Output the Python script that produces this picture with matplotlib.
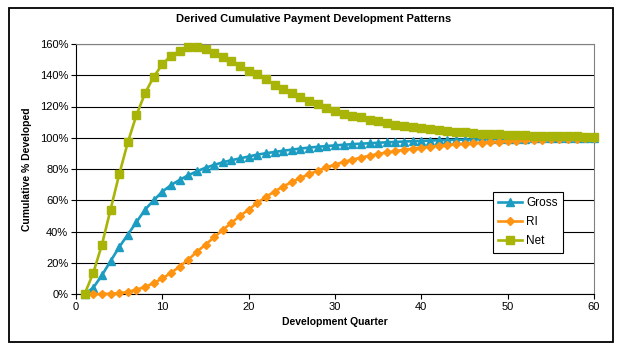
import matplotlib
matplotlib.use("Agg")
import matplotlib.pyplot as plt
from matplotlib.patches import Rectangle
from matplotlib.ticker import FuncFormatter


QUARTERS = list(range(1, 61))

GROSS = [
    0, 4, 12, 21, 30, 38, 46, 54, 60, 65.5,
    69.7, 73, 76, 78.5, 80.8, 82.6, 84.3, 85.6, 86.8, 88,
    89.2, 90.1, 90.9, 91.7, 92.4, 93.1, 93.7, 94.2, 94.7, 95.1,
    95.5, 95.9, 96.2, 96.5, 96.8, 97.1, 97.3, 97.6, 97.8, 98.0,
    98.2, 98.4, 98.5, 98.7, 98.8, 98.9, 99.0, 99.1, 99.2, 99.3,
    99.4, 99.5, 99.6, 99.6, 99.7, 99.8, 99.8, 99.9, 99.9, 100,
]

RI = [
    0, 0, 0, 0.2, 0.5, 1.3, 2.8, 4.5, 7, 10,
    13.5, 17.5, 22, 27, 31.6, 36.3, 41, 45.5, 50, 54,
    58.3, 62.2, 65.6, 68.8, 71.7, 74.3, 76.7, 78.9, 81, 82.8,
    84.5, 86, 87.3, 88.5, 89.6, 90.6, 91.5, 92.3, 93, 93.7,
    94.3, 94.8, 95.3, 95.8, 96.2, 96.6, 96.9, 97.2, 97.5, 97.8,
    98.0, 98.3, 98.5, 98.7, 98.9, 99.1, 99.3, 99.5, 99.7, 100,
]

NET = [
    0, 13.5, 31.5, 54, 76.5, 97, 114.5, 128.5, 139, 147,
    152.5, 155.5, 158, 158, 156.5, 154.5, 152, 149, 146, 143,
    140.5, 137.5, 134, 131, 128.5, 126, 123.5, 121.5, 119, 117,
    115.5, 114, 113, 111.5, 110.5, 109.3, 108.4, 107.6, 107, 106.2,
    105.4, 104.8, 104.3, 104, 103.5, 103, 102.7, 102.4, 102.1, 101.8,
    101.7, 101.6, 101.4, 101.3, 101.2, 101.1, 101, 100.9, 100.8, 100.6,
]

X_TICKS = [0, 10, 20, 30, 40, 50, 60]
Y_TICKS = [0, 20, 40, 60, 80, 100, 120, 140, 160]

plt.rcParams["font.family"] = ["Liberation Sans", "DejaVu Sans"]

fig = plt.figure(figsize=(6.21, 3.54), dpi=100)
fig.patches.append(Rectangle((9 / 621, 1 - 342 / 354), 604 / 621, 334 / 354,
                             transform=fig.transFigure, fill=False,
                             edgecolor="black", linewidth=1.3))

ax = fig.add_axes([76 / 621, 1 - 294 / 354, 518 / 621, 250 / 354])

ax.plot(QUARTERS, GROSS, color="#1B9CC0", linewidth=1.9, marker="^",
        markersize=5.8, label="Gross", zorder=3, clip_on=False)
ax.plot(QUARTERS, RI, color="#FF9412", linewidth=1.9, marker="D",
        markersize=4.4, label="RI", zorder=3, clip_on=False)
ax.plot(QUARTERS, NET, color="#A8B408", linewidth=1.9, marker="s",
        markersize=5.2, label="Net", zorder=3, clip_on=False)

ax.set_xlim(0, 60)
ax.set_ylim(0, 160)
ax.set_xticks(X_TICKS)
ax.set_yticks(Y_TICKS)
ax.yaxis.set_major_formatter(FuncFormatter(lambda v, p: f"{int(v)}%"))
ax.grid(axis="y", color="black", linewidth=0.8)
ax.set_axisbelow(True)
ax.tick_params(axis="both", direction="out", length=3.5, width=0.8,
               labelsize=8, pad=2)

for side in ("left", "bottom"):
    ax.spines[side].set_color("black")
    ax.spines[side].set_linewidth(0.8)
for side in ("top", "right"):
    ax.spines[side].set_color("#808080")
    ax.spines[side].set_linewidth(0.8)

ax.set_xlabel("Development Quarter", fontsize=7.5, fontweight="bold", labelpad=4)
ax.set_ylabel("Cumulative % Developed", fontsize=7.5, fontweight="bold", labelpad=6)

fig.text(314 / 621, 1 - 19 / 354, "Derived Cumulative Payment Development Patterns",
         ha="center", va="center", fontsize=8, fontweight="bold")

leg = ax.legend(loc="upper left", bbox_to_anchor=(493 / 621, 1 - 192 / 354),
                bbox_transform=fig.transFigure, borderaxespad=0, fontsize=8.5,
                fancybox=False, framealpha=1, edgecolor="black",
                handlelength=2.0, labelspacing=0.6, borderpad=0.45,
                handletextpad=0.35)
leg.get_frame().set_linewidth(0.8)

fig.savefig("out.png", dpi=100)
